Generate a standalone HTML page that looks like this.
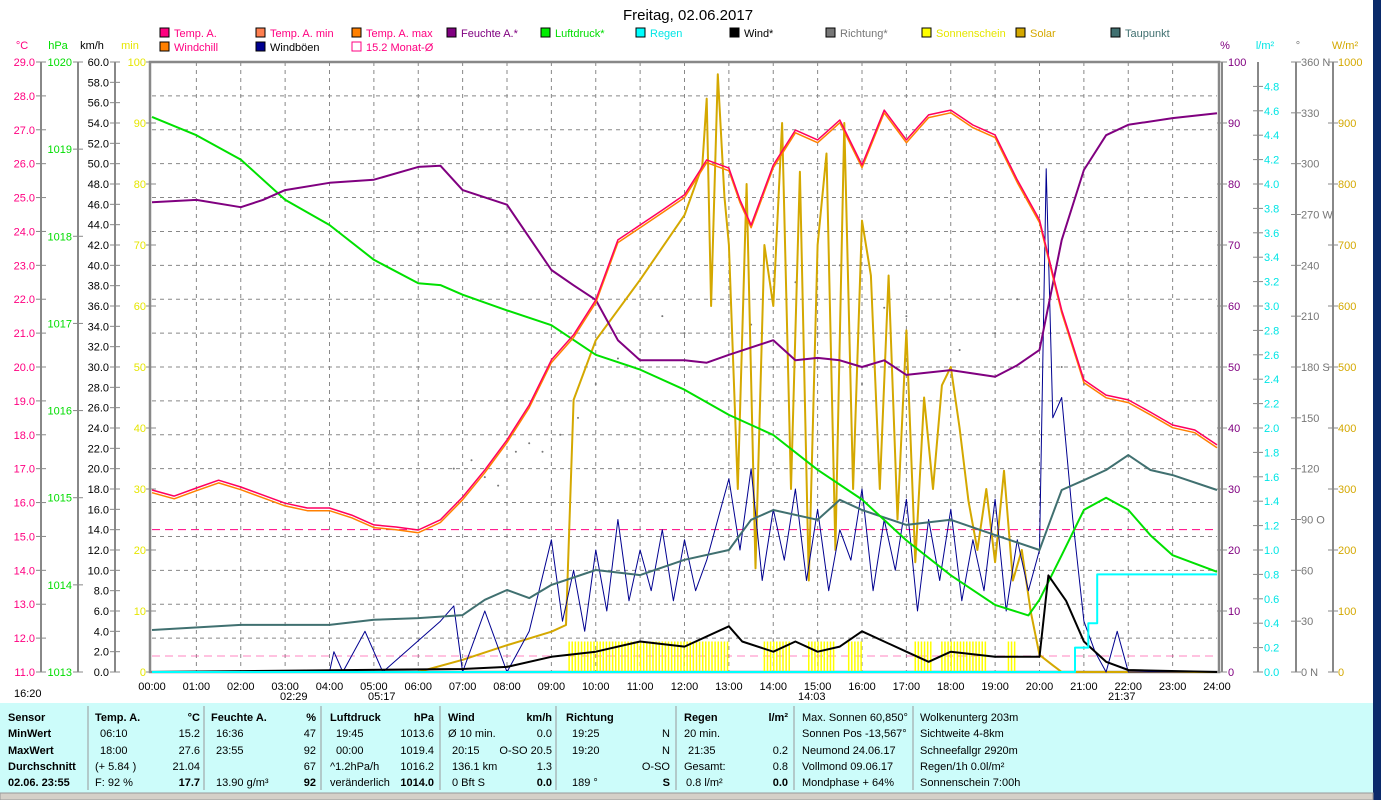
<!DOCTYPE html>
<html><head><meta charset="utf-8">
<style>
body{margin:0;width:1381px;height:800px;overflow:hidden;background:#fff;font-family:"Liberation Sans",sans-serif;}
svg{display:block}
text{font-family:"Liberation Sans",sans-serif;font-size:11px}
</style></head><body>
<svg id="c" width="1381" height="800" xmlns="http://www.w3.org/2000/svg">
<rect x="1373" y="0" width="8" height="800" fill="#0a2a6a"/>
<text x="688" y="20" text-anchor="middle" style="font-size:15px">Freitag, 02.06.2017</text>
<g id="legend"></g>
<g id="grid"></g>
<g id="axes"></g>
<g id="series"></g>
<g id="table"></g>
</svg>
<script>
// ---- data ----
const tempTimes=[0,0.5,1,1.5,2,2.5,3,3.5,4,4.5,5,5.5,6,6.5,7,7.5,8,8.5,9,9.5,10,10.5,11,11.5,12,12.5,13,13.25,13.5,14,14.5,15,15.25,15.5,16,16.5,17,17.5,18,18.5,19,19.5,20,20.5,21,21.5,22,22.5,23,23.5,24];
const tempVals=[16.37,16.19,16.43,16.66,16.46,16.22,15.98,15.84,15.84,15.63,15.34,15.28,15.19,15.49,16.16,16.96,17.85,18.88,20.21,20.95,21.98,23.75,24.19,24.63,25.08,26.11,25.87,24.93,24.19,25.96,26.99,26.7,26.99,27.29,25.96,27.58,26.7,27.44,27.58,27.14,26.85,25.52,24.34,21.68,19.62,19.17,19.03,18.67,18.29,18.14,17.7];
const humTimes=[0,1,2,2.5,3,4,5,6,6.5,7,8,9,9.5,10,10.5,11,12,12.5,13,14,14.5,15,15.5,16,16.5,17,18,19,19.5,20,20.5,21,21.5,22,23,24];
const humVals=[77,77.4,76.2,77.4,79,80.2,80.7,82.8,83,79,76.6,65.9,63.4,61,54.4,51.1,51.1,50.7,52,54.4,51.1,51.5,51.1,50,51.1,48.7,49.5,48.4,50.3,52.8,70.8,82.3,88,89.7,90.8,91.6];
const presTimes=[0,1,2,3,4,5,6,6.5,7,8,9,10,11,12,13,14,15,16,17,18,19,19.75,20,20.5,21,21.5,22,22.5,23,24];
const presVals=[1019.37,1019.16,1018.88,1018.42,1018.13,1017.73,1017.46,1017.44,1017.33,1017.15,1016.98,1016.64,1016.47,1016.24,1015.95,1015.72,1015.32,1014.98,1014.51,1014.11,1013.77,1013.65,1013.83,1014.34,1014.86,1015.0,1014.86,1014.57,1014.34,1014.15];
const dewTimes=[0,2,4,5,6,7,7.5,8,8.5,9,10,11,12,13,13.5,14,15,15.5,16,17,18,19,20,20.25,20.5,21,21.5,22,22.5,23,24];
const dewVals=[12.24,12.39,12.39,12.54,12.59,12.68,13.13,13.42,13.18,13.57,14.01,13.86,14.31,14.6,15.49,15.78,15.49,16.08,15.78,15.34,15.49,15.04,14.6,15.49,16.37,16.66,16.96,17.4,16.96,16.81,16.37];
const solarTimes=[0,6,7,8,9,9.33,9.5,10,11,12,12.4,12.5,12.6,12.75,12.9,13,13.2,13.4,13.6,13.8,14,14.2,14.4,14.6,14.8,15,15.2,15.4,15.6,15.8,16,16.2,16.4,16.6,16.8,17,17.2,17.4,17.6,17.8,18,18.2,18.4,18.6,18.8,19,19.2,19.4,19.6,19.8,20,20.3,20.5,24];
const solarVals=[0,0,20,44,66,77,446,544,643,749,830,940,600,980,780,700,300,800,170,700,600,900,300,820,150,700,850,200,900,300,740,650,300,650,250,560,180,450,300,470,500,400,280,200,300,180,330,150,200,100,28,11,0,0];
const windTimes=[0,7,8,9,10,11,12,13,13.3,14,14.5,15,15.5,16,17,17.5,18,19,20,20.2,20.6,21,21.5,22,24];
const windVals=[0,0.3,0.5,1.5,2,3,2.5,4.5,3,2,3,2,2.5,4,2,1,2,1.5,1.5,9.5,7,3,1,0.2,0];
const gustTimes=[0,4,4.1,4.3,4.8,5.2,6.5,6.8,7,7.5,8,8.5,9,9.25,9.5,9.75,10,10.25,10.5,10.75,11,11.25,11.5,11.75,12,12.25,12.5,12.75,13,13.25,13.5,13.75,14,14.25,14.5,14.75,15,15.25,15.5,15.75,16,16.25,16.5,16.75,17,17.25,17.5,17.75,18,18.25,18.5,18.75,19,19.25,19.5,19.75,20,20.15,20.3,20.5,20.75,21,21.25,21.5,21.75,22,24];
const gustVals=[0,0,2,0,4,0,5,6.5,0,6,0,4,13,5,10,4,12,6,15,7,12,8,14,7,13,8,11,15,19,12,20,9,16,11,18,9,16,8,14,11,18,8,15,10,17,6,15,9,16,7,13,8,17,6,13,8,12,49.5,25,27,15,5,2,0,4,0,0];
const rainTimes=[0,20.8,21.1,21.3,24];
const rainVals=[0,0.2,0.4,0.8,0.8];
const sunStarts=[9.4,13.8,14.8,15.7,17.2,17.8,19.3];
const sunEnds=[13.0,14.4,15.4,16.0,17.6,18.8,19.5];
const sunVals=[5,5,5,5,5,5,5];
const dirTimes=[6.8,7.2,7.5,7.8,8.2,8.5,8.8,9.2,9.6,10,10.5,11,11.5,12,13.5,14,14.5,15,15.5,16,16.5,17,18.2,19,19.5,20.5,21];
const dirVals=[120,125,115,110,130,135,130,140,150,170,185,190,210,200,205,180,230,200,240,170,215,210,190,200,220,180,170];
const hourLabels=["00:00","01:00","02:00","03:00","04:00","05:00","06:00","07:00","08:00","09:00","10:00","11:00","12:00","13:00","14:00","15:00","16:00","17:00","18:00","19:00","20:00","21:00","22:00","23:00","24:00"];

// ---- scales ----
const X0=152,X1=1217,YT=62,YB=672;
const x=h=>X0+h*(X1-X0)/24;
const yT=t=>YT+(29-t)*(YB-YT)/18;
const yP=p=>YT+(1020-p)*(YB-YT)/7;
const yK=v=>YB-v*(YB-YT)/60;
const yH=v=>YB-v*(YB-YT)/100;
const yR=v=>YB-v*(YB-YT)/(100*0.049);
const yRain=v=>YB-v*122/1.0;
const yD=v=>YB-v*(YB-YT)/360;
const yW=v=>YB-v*(YB-YT)/1000;

const NS="http://www.w3.org/2000/svg";
function mk(parent,tag,attrs,txt){const e=document.createElementNS(NS,tag);for(const k in attrs)e.setAttribute(k,attrs[k]);if(txt!==undefined)e.textContent=txt;parent.appendChild(e);return e;}
const G=id=>document.getElementById(id);

// grid
const grid=G('grid');
for(let h=1;h<24;h++){const l=mk(grid,'line',{x1:x(h),x2:x(h),y1:YT,y2:YB,stroke:'#888','stroke-dasharray':'4,4'});

}
for(let t=12;t<29;t++){const l=mk(grid,'line',{x1:X0,x2:X1,y1:yT(t),y2:yT(t),stroke:'#888','stroke-dasharray':'4,4'});

}
let mo=mk(grid,'line',{x1:X0,x2:X1,y1:yT(15.2),y2:yT(15.2),stroke:'#ff0080','stroke-dasharray':'8,5'});


let gl=mk(grid,'line',{x1:X0,x2:X1,y1:656,y2:656,stroke:'#ff3399','stroke-dasharray':'8,5','stroke-opacity':0.6});



// axes
const ax=G('axes');
function vline(xx,col){mk(ax,'line',{x1:xx,x2:xx,y1:YT,y2:YB,stroke:col||'#888','stroke-width':2});}
mk(ax,'rect',{x:X0-2,y:YT,width:X1-X0+4,height:YB-YT,fill:'none',stroke:'#888','stroke-width':2.5});
mk(ax,'line',{x1:1222,x2:1222,y1:YT,y2:YB,stroke:'#888','stroke-width':2});
vline(41);vline(78);vline(115);vline(1258);vline(1296);vline(1333);
function tick(xx,y,col,txt,anchor,tx,name){mk(ax,'line',{x1:xx-5,x2:xx+5,y1:y,y2:y,stroke:'#888'});const t=mk(ax,'text',{x:tx,y:y+4,fill:col,'text-anchor':anchor},txt);}
for(let t=11;t<=29;t++)tick(41,yT(t),'#ff0080',t.toFixed(1),'end',35,'celsius-tick');
for(let p=1013;p<=1020;p++)tick(78,yP(p),'#00dd00',String(p),'end',72,'hpa-tick');
for(let k=0;k<=60;k+=2)tick(115,yK(k),'#000',k.toFixed(1),'end',109,'kmh-tick');
for(let m=0;m<=100;m+=10)tick(151,yH(m),'#e6e600',String(m),'end',146,'minutes-tick');
for(let m=0;m<=100;m+=10)tick(1222,yH(m),'#800080',String(m),'start',1228,'percent-tick');
for(let r=0;r<=24;r++){const v=r*0.2;const yy=YB-r*24.4;tick(1258,yy,'#00e5e5',v.toFixed(1),'start',1264,'rain-tick');}
const dirLab={0:'0    N',90:'90   O',180:'180  S',270:'270  W',360:'360  N'};
for(let d=0;d<=360;d+=30)tick(1296,yD(d),'#777',(dirLab[d]||String(d)),'start',1301,'direction-tick');
for(let w=0;w<=1000;w+=100)tick(1333,yW(w),'#d4a800',String(w),'start',1338,'solar-tick');
[['°C',22,'#ff0080'],['hPa',58,'#00dd00'],['km/h',92,'#000'],['min',130,'#e6e600'],['%',1225,'#800080'],['l/m²',1265,'#00e5e5'],['°',1298,'#777'],['W/m²',1345,'#d4a800']].forEach(a=>{const t=mk(ax,'text',{x:a[1],y:49,fill:a[2],'text-anchor':'middle'},a[0]);});
hourLabels.forEach((s,i)=>{const t=mk(ax,'text',{x:x(i),y:690,'text-anchor':'middle'},s);});
[['16:20',14,697],['02:29',280,700],['05:17',368,700],['14:03',798,700],['21:37',1108,700]].forEach(a=>{const t=mk(ax,'text',{x:a[1],y:a[2]},a[0]);});

// legend
const lg=G('legend');
[['Temp. A.',160,37,'#ff0080','#ff0080'],['Temp. A. min',256,37,'#ff7f50','#ff0080'],['Temp. A. max',352,37,'#ff8000','#ff0080'],['Feuchte A.*',447,37,'#800080','#800080'],['Luftdruck*',541,37,'#00ee00','#00dd00'],['Regen',636,37,'#00ffff','#00e5e5'],['Wind*',730,37,'#000','#000'],['Richtung*',826,37,'#777','#777'],['Sonnenschein',922,37,'#ffff00','#e6e600'],['Solar',1016,37,'#d4a800','#d4a800'],['Taupunkt',1111,37,'#407070','#407070'],['Windchill',160,51,'#ff8000','#ff0080'],['Windböen',256,51,'#000090','#000'],['15.2 Monat-Ø',352,51,'#fff','#ff0080']].forEach(a=>{
 const g=mk(lg,'g',{});
 
 
 mk(g,'rect',{x:a[1],y:a[2]-9,width:9,height:9,fill:a[3],stroke:a[4]==='#ff0080'&&a[3]==='#fff'?'#ff0080':'#000'});
 mk(g,'text',{x:a[1]+14,y:a[2],fill:a[4]},a[0]);
});

// series
const sr=G('series');
function path(ts,vs,fx,fy,col,w,name,step){let d='';ts.forEach((t,i)=>{if(step&&i>0)d+='L'+fx(t).toFixed(1)+','+fy(vs[i-1]).toFixed(1);d+=(i?'L':'M')+fx(t).toFixed(1)+','+fy(vs[i]).toFixed(1);});const p=mk(sr,'path',{d:d,fill:'none',stroke:col,'stroke-width':w,'stroke-linejoin':'round'});return p;}
// sunshine bars
sunStarts.forEach((s,i)=>{for(let h=s;h<sunEnds[i];h+=0.07){const l=mk(sr,'line',{x1:x(h),x2:x(h),y1:YB,y2:yH(sunVals[i]),stroke:'#ffff00','stroke-width':1.5});}});
dirTimes.forEach((t,i)=>{const c=mk(sr,'circle',{cx:x(t),cy:yD(dirVals[i]),r:1,fill:'#777'});});
path(solarTimes,solarVals,x,yW,'#d4a800',2,'solar-line');
path(gustTimes,gustVals,x,yK,'#000090',1,'gust-line');
path(dewTimes,dewVals,x,yT,'#407070',2,'dewpoint-line');
path(presTimes,presVals,x,yP,'#00e000',2,'pressure-line');
path(humTimes,humVals,x,yH,'#800080',2,'humidity-line');
path(tempTimes,tempVals.map(v=>v-0.08),x,yT,'#ff8000',1.5,'windchill-line');
path(tempTimes,tempVals,x,yT,'#ff0060',1.5,'temperature-line');
path(windTimes,windVals,x,yK,'#000',2,'wind-line');
path(rainTimes,rainVals,x,yRain,'#00ffff',2,'rain-line',true);

// table
const tb=G('table');
mk(tb,'rect',{x:0,y:703,width:1373,height:90,fill:'#ccfcfa'});
mk(tb,'rect',{x:0,y:793,width:1373,height:7,fill:'#d4d0c8',stroke:'#999'});
[88,204,321,440,556,676,794,913].forEach(s=>mk(tb,'line',{x1:s,x2:s,y1:706,y2:790,stroke:'#999'}));
const rows=[717,733,750,766,782];
const cells=[
 [8,0,'Sensor',1],[8,1,'MinWert',1],[8,2,'MaxWert',1],[8,3,'Durchschnitt',1],[8,4,'02.06. 23:55',1],
 [95,0,'Temp. A.',1],[200,0,'°C',1,'end'],[100,1,'06:10'],[200,1,'15.2',0,'end'],[100,2,'18:00'],[200,2,'27.6',0,'end'],[95,3,'(+ 5.84 )'],[200,3,'21.04',0,'end'],[95,4,'F: 92 %'],[200,4,'17.7',1,'end'],
 [211,0,'Feuchte A.',1],[316,0,'%',1,'end'],[216,1,'16:36'],[316,1,'47',0,'end'],[216,2,'23:55'],[316,2,'92',0,'end'],[316,3,'67',0,'end'],[216,4,'13.90 g/m³'],[316,4,'92',1,'end'],
 [330,0,'Luftdruck',1],[434,0,'hPa',1,'end'],[336,1,'19:45'],[434,1,'1013.6',0,'end'],[336,2,'00:00'],[434,2,'1019.4',0,'end'],[330,3,'^1.2hPa/h'],[434,3,'1016.2',0,'end'],[330,4,'veränderlich'],[434,4,'1014.0',1,'end'],
 [448,0,'Wind',1],[552,0,'km/h',1,'end'],[448,1,'Ø 10 min.'],[552,1,'0.0',0,'end'],[452,2,'20:15'],[552,2,'O-SO 20.5',0,'end'],[452,3,'136.1 km'],[552,3,'1.3',0,'end'],[452,4,'0 Bft S'],[552,4,'0.0',1,'end'],
 [566,0,'Richtung',1],[572,1,'19:25'],[670,1,'N',0,'end'],[572,2,'19:20'],[670,2,'N',0,'end'],[670,3,'O-SO',0,'end'],[572,4,'189 °'],[670,4,'S',1,'end'],
 [684,0,'Regen',1],[788,0,'l/m²',1,'end'],[684,1,'20 min.'],[688,2,'21:35'],[788,2,'0.2',0,'end'],[684,3,'Gesamt:'],[788,3,'0.8',0,'end'],[686,4,'0.8 l/m²'],[788,4,'0.0',1,'end'],
 [802,0,'Max. Sonnen 60,850°'],[802,1,'Sonnen Pos  -13,567°'],[802,2,'Neumond     24.06.17'],[802,3,'Vollmond     09.06.17'],[802,4,'Mondphase       + 64%'],
 [920,0,'Wolkenunterg   203m'],[920,1,'Sichtweite        4-8km'],[920,2,'Schneefallgr   2920m'],[920,3,'Regen/1h      0.0l/m²'],[920,4,'Sonnenschein  7:00h']];
cells.forEach(c=>{const t=mk(tb,'text',{x:c[0],y:rows[c[1]]+4,'text-anchor':c[4]||'start','font-weight':c[3]?'bold':'normal','xml:space':'preserve'},c[2]);

});
</script>
</body></html>
